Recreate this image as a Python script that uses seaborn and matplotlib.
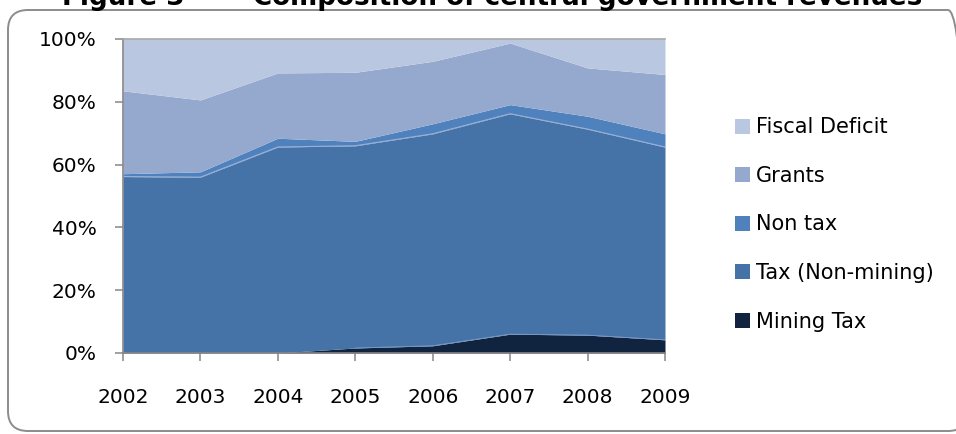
import matplotlib
matplotlib.use("Agg")
import matplotlib.pyplot as plt
import seaborn as sns
import pandas as pd
from matplotlib.patches import Patch, FancyBboxPatch
from matplotlib.transforms import IdentityTransform

# ---- data (percent of total) ----
years = [2002, 2003, 2004, 2005, 2006, 2007, 2008, 2009]
mining_tax = [0.0, 0.0, 0.0, 1.6, 2.3, 6.0, 5.7, 4.2]
tax_non_mining = [56.2, 56.0, 65.6, 64.4, 67.5, 70.2, 65.6, 61.4]
non_tax = [0.9, 1.7, 2.8, 1.4, 3.2, 2.9, 4.1, 4.2]
grants = [26.4, 22.9, 20.8, 22.0, 19.9, 19.6, 15.4, 18.9]
fiscal_deficit = [16.5, 19.4, 10.8, 10.6, 7.1, 1.3, 9.2, 11.3]

series_names = ["Mining Tax", "Tax (Non-mining)", "Non tax", "Grants", "Fiscal Deficit"]
colors = ["#11243F", "#4573A7", "#4F81BD", "#95A9CF", "#BAC7E0"]
y_ticklabels = ["0%", "20%", "40%", "60%", "80%", "100%"]
title_num = "Figure 3"
title_text = "Composition of central government revenues"

df = pd.DataFrame({"year": years, "Mining Tax": mining_tax,
                   "Tax (Non-mining)": tax_non_mining, "Non tax": non_tax,
                   "Grants": grants, "Fiscal Deficit": fiscal_deficit})

sns.set_theme(style="white")
plt.rcParams["font.family"] = ["DejaVu Sans"]
plt.rcParams["text.color"] = "black"

W, H = 956, 434
fig = plt.figure(figsize=(W / 100, H / 100), dpi=100)
fig.patch.set_facecolor("white")

# rounded chart frame
frame = FancyBboxPatch((8, H - 431), 960, 421, boxstyle="round,pad=0,rounding_size=20",
                       transform=IdentityTransform(), facecolor="none",
                       edgecolor="#8C8C8C", linewidth=1.4, zorder=0)
fig.patches.append(frame)

left, right, top_px, bot_px = 123, 665, 39, 353
ax = fig.add_axes([left / W, 1 - bot_px / H, (right - left) / W, (bot_px - top_px) / H])
ax.set_facecolor("none")

vals = [df[n].values for n in series_names]
ax.stackplot(df["year"], *vals, colors=colors, linewidth=0)

# thin light edges on top of mining / tax layers
cum_mining = df["Mining Tax"]
cum_tax = df["Mining Tax"] + df["Tax (Non-mining)"]
line_df = pd.DataFrame({"year": years, "top": cum_tax})
sns.lineplot(data=line_df, x="year", y="top", ax=ax, color="#9BB1D6", linewidth=0.8, legend=False)
line_df2 = pd.DataFrame({"year": years[3:], "top": cum_mining[3:]})
sns.lineplot(data=line_df2, x="year", y="top", ax=ax, color="#7F9CC8", linewidth=0.6, legend=False)

ax.set_xlim(years[0], years[-1])
ax.set_ylim(0, 100)
ax.set_xlabel("")
ax.set_ylabel("")
ax.set_xticks(years)
ax.set_xticklabels([str(y) for y in years])
ax.set_yticks([0, 20, 40, 60, 80, 100])
ax.set_yticklabels(y_ticklabels)

for s in ["left", "bottom"]:
    ax.spines[s].set_visible(True)
    ax.spines[s].set_color("#868686")
    ax.spines[s].set_linewidth(1.2)
ax.spines["top"].set_visible(True)
ax.spines["top"].set_color("#A6A6A6")
ax.spines["top"].set_linewidth(1.2)
ax.spines["right"].set_visible(False)

ax.tick_params(axis="y", which="major", direction="out", length=6, width=1.1,
               color="#868686", pad=13, labelsize=14.5, labelcolor="black", left=True)
ax.tick_params(axis="x", which="major", direction="out", length=6, width=1.1,
               color="#868686", pad=19.5, labelsize=14.5, labelcolor="black", bottom=True)
ax.grid(False)

# legend (top to bottom: Fiscal Deficit ... Mining Tax)
handles = [Patch(facecolor=c, edgecolor="none", label=n)
           for n, c in zip(series_names[::-1], colors[::-1])]
fs = 15
fpx = fs * 100 / 72
leg = fig.legend(handles=handles, loc="center left",
                 bbox_to_anchor=(735 / W, 1 - 224.5 / H), frameon=False,
                 fontsize=fs, handlelength=15 / fpx, handleheight=15 / fpx,
                 handletextpad=6 / fpx, labelspacing=1.37, borderpad=0,
                 borderaxespad=0, labelcolor="black")

# title (clipped at top as in the reference)
fig.text(62 / W, 1 - 5 / H, title_num, fontsize=18.8, fontweight="bold",
         ha="left", va="baseline", color="black")
fig.text(253 / W, 1 - 5 / H, title_text, fontsize=18.8, fontweight="bold",
         ha="left", va="baseline", color="black")

fig.savefig("out.png", dpi=100, facecolor="white")
